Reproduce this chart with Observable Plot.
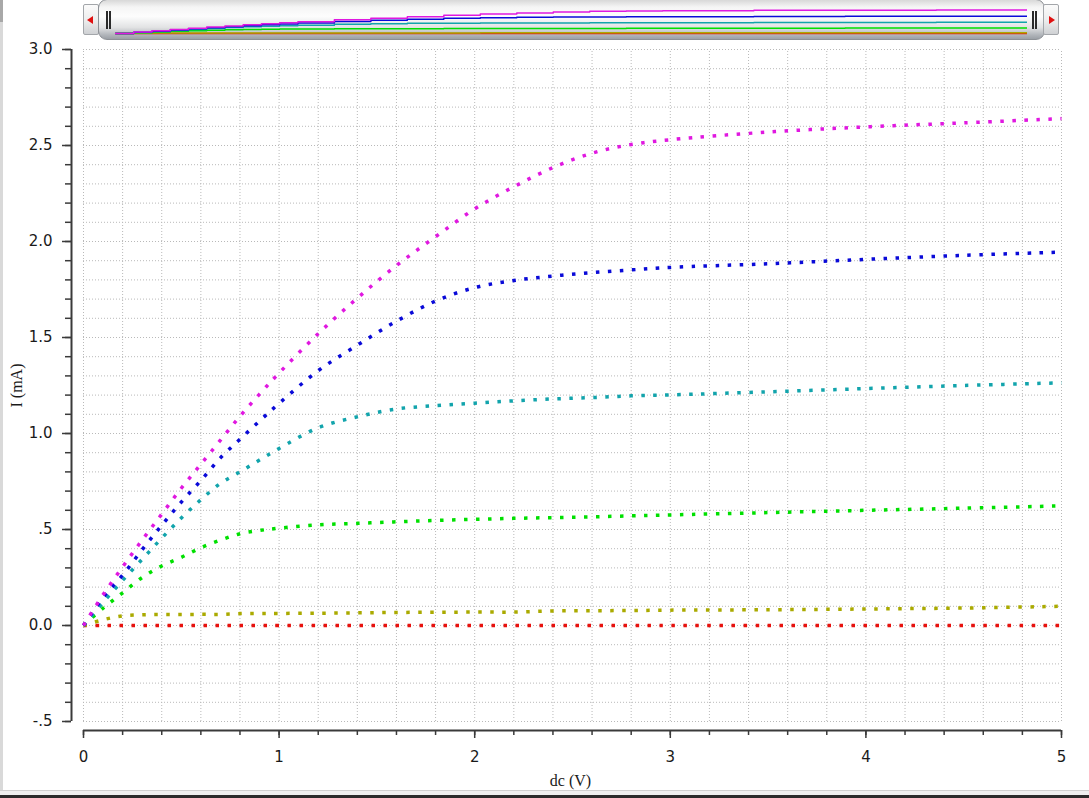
<!DOCTYPE html>
<html>
<head>
<meta charset="utf-8">
<script src="https://cdn.jsdelivr.net/npm/d3@7"></script>
<script src="https://cdn.jsdelivr.net/npm/@observablehq/plot@0.6"></script>
<style>
html, body { margin: 0; padding: 0; background: #fff; }
#page { position: relative; width: 1089px; height: 798px; overflow: hidden; background: #fff; }
#scroller { position: absolute; left: 0; top: 0; width: 1089px; height: 42px; z-index: 2; }
.btn { position: absolute; top: 4px; height: 31px; width: 16px; border: 1px solid #a3a6aa; border-radius: 2px;
  background: linear-gradient(to bottom, #fbfbfb 0%, #ececec 55%, #cfd1d4 100%); box-sizing: border-box; }
.btn.l { left: 83px; }
.btn.r { left: 1043px; }
.tri-l { position: absolute; left: 3px; top: 11px; width: 0; height: 0; border-top: 4px solid transparent;
  border-bottom: 4px solid transparent; border-right: 6px solid #e01010; }
.tri-r { position: absolute; left: 5px; top: 11px; width: 0; height: 0; border-top: 4px solid transparent;
  border-bottom: 4px solid transparent; border-left: 6px solid #e01010; }
.thumb { position: absolute; left: 98px; top: -1px; width: 947px; height: 41px; box-sizing: border-box;
  border: 1px solid #8d9196; border-radius: 9px;
  background: linear-gradient(to bottom, #d8d8d8 0%, #f5f5f5 18%, #fdfdfd 42%, #e2e3e4 70%, #b0b4b9 90%, #9ba0a6 100%); }
.grip { position: absolute; top: 11px; width: 1px; height: 18px; border-left: 2px solid #2a2a2a; border-right: 2px solid #2a2a2a; }
.grip.a { left: 7px; }
.grip.b { left: 933px; }
#mini { position: absolute; left: 115px; top: 0px; }
#chart { position: absolute; left: 0; top: 24px; z-index: 1; }
.edgeL { position: absolute; left: 0; top: 0; width: 3px; height: 798px; background: #d9d9d9; z-index: 3; }
.edgeL2 { position: absolute; left: 0; top: 0; width: 3px; height: 22px; background: #a8a8a8; z-index: 3; }
.edgeB1 { position: absolute; left: 0; top: 790px; width: 1089px; height: 5px; background: #efefef; border-top: 1px solid #d0d0d0; box-sizing: border-box; z-index: 3; }
.edgeB2 { position: absolute; left: 0; top: 795px; width: 1089px; height: 3px; background: #2b2b2b; z-index: 3; }
</style>
</head>
<body>
<div id="page">
  <div id="chart"></div>
  <div id="scroller">
    <div class="btn l"><div class="tri-l"></div></div>
    <div class="thumb"><div class="grip a"></div><div class="grip b"></div></div>
    <div id="mini"></div>
    <div class="btn r"><div class="tri-r"></div></div>
  </div>
  <div class="edgeL"></div>
  <div class="edgeL2"></div>
  <div class="edgeB1"></div>
  <div class="edgeB2"></div>
</div>
<script>
// Drain voltage samples (V)
const vds = [0, 0.1, 0.2, 0.3, 0.4, 0.5, 0.6, 0.7, 0.8, 0.9, 1.0, 1.2, 1.4, 1.6, 1.8, 2.0, 2.2, 2.4, 2.6, 2.8, 3.0, 3.5, 4.0, 4.5, 5.0];

// Drain current series (mA)
const curveRed     = [0, 0, 0, 0, 0, 0, 0, 0, 0, 0, 0, 0, 0, 0, 0, 0, 0, 0, 0, 0, 0, 0, 0, 0, 0];
const curveOlive   = [0, 0.03, 0.05, 0.056, 0.057, 0.057, 0.058, 0.058, 0.062, 0.063, 0.063, 0.064, 0.066, 0.068, 0.069, 0.07, 0.07, 0.076, 0.077, 0.078, 0.08, 0.082, 0.086, 0.091, 0.1];
const curveGreen   = [0, 0.09, 0.17, 0.25, 0.31, 0.355, 0.405, 0.445, 0.478, 0.495, 0.507, 0.524, 0.532, 0.54, 0.547, 0.553, 0.558, 0.562, 0.566, 0.571, 0.576, 0.588, 0.6, 0.611, 0.623];
const curveCyan    = [0, 0.12, 0.235, 0.345, 0.455, 0.56, 0.655, 0.74, 0.8, 0.862, 0.922, 1.03, 1.087, 1.128, 1.145, 1.158, 1.17, 1.18, 1.187, 1.196, 1.201, 1.217, 1.234, 1.25, 1.264];
const curveBlue    = [0, 0.145, 0.262, 0.395, 0.522, 0.643, 0.755, 0.873, 0.97, 1.065, 1.157, 1.327, 1.46, 1.585, 1.69, 1.76, 1.797, 1.82, 1.838, 1.852, 1.865, 1.884, 1.907, 1.928, 1.945];
const curveMagenta = [0, 0.16, 0.305, 0.445, 0.58, 0.715, 0.84, 0.965, 1.09, 1.205, 1.315, 1.52, 1.705, 1.875, 2.025, 2.17, 2.285, 2.385, 2.46, 2.505, 2.53, 2.57, 2.597, 2.618, 2.64];

const seriesNames  = ["s0", "s1", "s2", "s3", "s4", "s5"];
const seriesValues = [curveRed, curveOlive, curveGreen, curveCyan, curveBlue, curveMagenta];
const seriesColors = ["#e8120e", "#aaaa00", "#00e000", "#12a4ac", "#0a0ad8", "#e018e0"];

// Axis ticks
const yMajorTicks = [-0.5, 0, 0.5, 1.0, 1.5, 2.0, 2.5, 3.0];
const yMajorLabels = ["-.5", "0.0", ".5", "1.0", "1.5", "2.0", "2.5", "3.0"];
const xMajorTicks = [0, 1, 2, 3, 4, 5];
const yMinorTicks = d3.range(-5, 31).map(d => d / 10);
const xMinorTicks = d3.range(0, 26).map(d => d / 5);

const xLabel = "dc (V)";
const yLabel = "I (mA)";

const rows = [];
seriesNames.forEach((s, k) => vds.forEach((v, j) => rows.push({s, v, i: seriesValues[k][j]})));

const color = {domain: seriesNames, range: seriesColors};
const axisColor = "#3a3a3a";
const gridColor = "#b9b9b9";
const yMid = (yMajorTicks[0] + yMajorTicks[yMajorTicks.length - 1]) / 2;

const chart = Plot.plot({
  width: 1089,
  height: 774,
  marginLeft: 71,
  marginRight: 28,
  marginTop: 25,
  marginBottom: 68,
  style: {fontFamily: "DejaVu Sans", fontSize: "15px", color: "#1a1a1a", background: "transparent"},
  x: {domain: [0, 5], insetLeft: 12, axis: null, label: null},
  y: {domain: [-0.5, 3], insetBottom: 9, axis: null, label: null},
  color,
  marks: [
    // grid
    Plot.ruleX(xMinorTicks, {y1: -0.5, y2: 3, stroke: gridColor, strokeWidth: 1, strokeDasharray: "1,2"}),
    Plot.ruleY(yMinorTicks, {x1: 0, x2: 5, stroke: gridColor, strokeWidth: 1, strokeDasharray: "1,2"}),
    // axis lines
    Plot.ruleX([0], {y1: -0.5, y2: 3, dx: -12, stroke: axisColor, strokeWidth: 2}),
    Plot.ruleY([-0.5], {x1: 0, x2: 5, dy: 9, stroke: axisColor, strokeWidth: 2}),
    // y axis
    Plot.axisY(yMinorTicks, {anchor: "left", tickSize: 6, tickFormat: () => "", label: null, stroke: axisColor, strokeWidth: 1.5}),
    Plot.axisY(yMajorTicks, {anchor: "left", tickSize: 9, tickPadding: 10, stroke: axisColor, strokeWidth: 1.5,
      fontSize: 15, tickFormat: d => yMajorLabels[yMajorTicks.indexOf(d)], label: null}),
    // x axis
    Plot.axisX(xMinorTicks, {anchor: "bottom", tickSize: 5, tickFormat: () => "", label: null, stroke: axisColor, strokeWidth: 1.5}),
    Plot.axisX(xMajorTicks, {anchor: "bottom", tickSize: 8, tickPadding: 13, stroke: axisColor, strokeWidth: 1.5,
      fontSize: 15, tickFormat: d => String(d), label: null}),
    // axis titles
    Plot.text([xLabel], {frameAnchor: "bottom", dx: 4, dy: 55, fontFamily: "Liberation Serif", fontSize: 16, fill: "#1a1a1a"}),
    Plot.text([yLabel], {y: () => yMid, frameAnchor: "left", textAnchor: "middle", rotate: -90, dx: -55, fontFamily: "Liberation Serif", fontSize: 16, fill: "#1a1a1a"}),
    // curves
    Plot.line(rows, {x: "v", y: "i", z: "s", stroke: "s", strokeWidth: 3.5, strokeDasharray: "3.5,8.5", strokeLinecap: "butt", strokeLinejoin: "miter", curve: "catmull-rom"})
  ]
});
document.getElementById("chart").appendChild(chart);

const mini = Plot.plot({
  width: 912,
  height: 40,
  marginLeft: 0,
  marginRight: 0,
  marginTop: 6,
  marginBottom: 7,
  style: {background: "transparent"},
  x: {domain: [0, 5], axis: null},
  y: {domain: [0, 3], axis: null},
  color,
  marks: [
    Plot.line(rows, {x: "v", y: "i", z: "s", stroke: "s", strokeWidth: 1.5, curve: "step-after"})
  ]
});
document.getElementById("mini").appendChild(mini);
</script>
</body>
</html>
